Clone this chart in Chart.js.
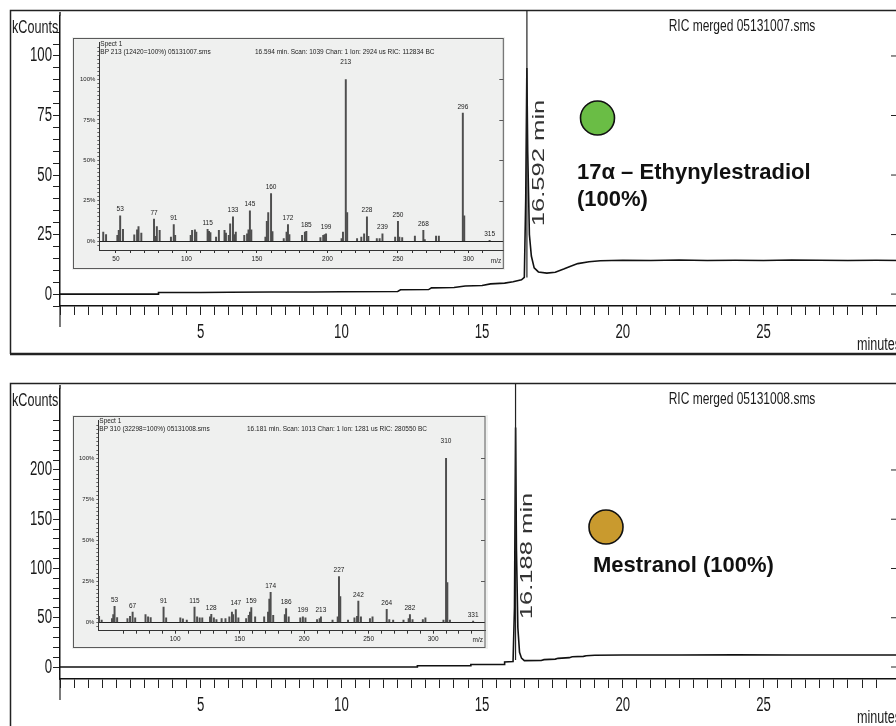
<!DOCTYPE html>
<html>
<head>
<meta charset="utf-8">
<script src="https://cdn.jsdelivr.net/npm/chart.js@4.4.0/dist/chart.umd.min.js"></script>
<style>
  html, body { margin: 0; padding: 0; background: #fff; overflow: hidden; }
  #wrap { position: relative; width: 896px; height: 726px; overflow: hidden; }
  canvas { position: absolute; }
  #chrom1 { left: 0; top: 0; }
  #chrom2 { left: 0; top: 373px; }
  #spec1 { left: 72px; top: 37px; background: #eff0ef; }
  #spec2 { left: 72px; top: 415px; background: #eff0ef; }
</style>
</head>
<body>
<div id="wrap">
  <canvas id="chrom1" width="900" height="373"></canvas>
  <canvas id="chrom2" width="900" height="373"></canvas>
  <canvas id="spec1" width="433" height="233"></canvas>
  <canvas id="spec2" width="416" height="234"></canvas>
</div>
<script>
// --- chromatogram 1: RIC merged 05131007.sms (17a-ethynylestradiol) ---
const chrom1Time = [0, 3.5, 3.5, 5, 6, 7.5, 9, 10, 12, 12.1, 13.1, 13.2, 14, 14.4, 15, 15.3, 15.8, 16.1, 16.4, 16.5,
  16.55, 16.59, 16.62, 16.68, 16.75, 16.85, 17, 17.3, 17.6, 17.9, 18.1, 18.4, 18.8, 19.2, 20, 21, 22, 23, 24, 25, 26, 27, 28, 29, 29.9];
const chrom1Counts = [0, 0, 0.7, 0.7, 0.8, 0.9, 0.9, 1.0, 1.1, 1.8, 1.9, 2.6, 2.8, 3.4, 3.6, 4.3, 4.6, 5.2, 6, 7,
  40, 95, 60, 25, 16, 11, 9.3, 8.8, 9.2, 10.5, 11.5, 12.8, 13.6, 14, 14.2, 14.1, 14.3, 14.1, 14.2, 14.1, 14.3, 14.2, 14.1, 14.2, 14.1];
const chrom1Peak = 16.592;

// --- chromatogram 2: RIC merged 05131008.sms (mestranol) ---
const chrom2Time = [0, 12.7, 12.7, 14.6, 14.6, 15.8, 15.8, 16.1, 16.15, 16.19, 16.22, 16.27, 16.33, 16.4, 16.5,
  17.1, 17.2, 17.6, 17.7, 18.1, 18.2, 18.6, 18.7, 19, 20, 22, 24, 26, 28, 29.9];
const chrom2Counts = [0, 0, 1.3, 1.3, 2.6, 2.6, 5, 5.5, 60, 243, 120, 40, 15, 9, 6.5,
  6.6, 7.5, 8, 8.8, 9.5, 10.4, 10.8, 11.5, 12, 12.2, 12.2, 12.3, 12.2, 12.2, 12.2];
const chrom2Peak = 16.188;

const timeLabels = [5, 10, 15, 20, 25];

// --- inset spectrum 1: BP 213 ---
const spec1Mz = [41, 43, 51, 52, 53, 55, 63, 65, 66, 68, 77, 78, 79, 81, 89, 91, 92, 103, 104, 106, 107, 115, 116, 117,
  121, 123, 127, 128, 130, 131, 133, 134, 135, 141, 143, 144, 145, 146, 156, 157, 158, 160, 161, 169, 171, 172, 173,
  182, 184, 185, 195, 197, 198, 199, 210, 211, 213, 214, 221, 224, 226, 228, 229, 235, 237, 239, 248, 250, 251, 253,
  262, 268, 269, 277, 279, 296, 297, 315];
const spec1Int = [5.6, 4.2, 3.6, 6.7, 15.7, 7.3, 4, 7, 9, 5, 13.7, 3, 9, 6.7, 2.6, 10.3, 3.6, 3.6, 6.7, 7, 5.6, 7.3, 6.2, 5.4,
  2.6, 6.7, 6.7, 5, 3.6, 10.7, 15.1, 4.2, 5.6, 3.6, 4.6, 7, 18.8, 7, 2.6, 12.3, 17.8, 29.5, 6, 1.6, 5.6, 10.3, 4.2,
  3.6, 5.6, 6.2, 2.2, 3.6, 4.2, 4.6, 1.6, 5.6, 100, 17.8, 1.6, 2.6, 4.6, 15.1, 3, 1.6, 1.6, 4.6, 2.6, 12.3, 2.6, 2.2,
  3.2, 6.7, 1, 3.2, 3.2, 79.3, 15.7, 0.6];
const spec1Labels = [53, 77, 91, 115, 133, 145, 160, 172, 185, 199, 213, 228, 239, 250, 268, 296, 315];

// --- inset spectrum 2: BP 310 ---
const spec2Mz = [41, 43, 51, 52, 53, 55, 63, 65, 67, 69, 77, 79, 81, 91, 93, 104, 106, 109, 115, 117, 119, 121, 127, 128,
  130, 132, 136, 139, 142, 144, 145, 147, 149, 155, 157, 158, 159, 162, 169, 172, 173, 174, 176, 185, 186, 188, 197,
  199, 201, 210, 212, 213, 222, 226, 227, 228, 234, 239, 241, 242, 244, 251, 253, 264, 266, 269, 277, 281, 282, 284,
  292, 294, 308, 310, 311, 313, 331];
const spec2Int = [3.8, 1.4, 2.4, 4.8, 9.8, 3, 2.4, 3.8, 6.4, 2.8, 4.8, 3.4, 3, 9.4, 2.8, 2.8, 2.2, 1.4, 9.4, 3.4, 2.8, 2.8, 3.4, 5,
  2.8, 1.8, 2.4, 2.4, 3.4, 6.4, 4.8, 7.8, 2.8, 2.4, 4.4, 6.4, 9, 3.4, 3.4, 6.4, 14.3, 18.3, 4.4, 4.8, 8.4, 3.4, 2.8,
  3.4, 2.8, 1.8, 2.4, 3.4, 1.4, 3.4, 27.9, 15.7, 1.4, 2.8, 3.8, 13, 3.4, 2.4, 3.4, 8, 1.8, 1.4, 1.4, 2.4, 4.8, 1.8,
  1.8, 2.8, 1.4, 100, 24.3, 1.4, 0.8];
const spec2Labels = [53, 67, 91, 115, 128, 147, 159, 174, 186, 199, 213, 227, 242, 264, 282, 310, 331];

const SANS = "'Liberation Sans', Arial, sans-serif";
const INK = '#1a1a1a';

function onStep(v, step) {
  return Math.abs(v / step - Math.round(v / step)) < 1e-6;
}

// condensed text: the original uses a narrow face, so squeeze Liberation Sans
function narrowText(ctx, text, x, y, size, sx, align) {
  ctx.save();
  ctx.translate(x, y);
  ctx.scale(sx, 1);
  ctx.font = size + 'px ' + SANS;
  ctx.textAlign = align;
  ctx.textBaseline = 'middle';
  ctx.fillText(text, 0, 0);
  ctx.restore();
}

function chromDecor(o) {
  return {
    id: 'chromDecor',
    afterDraw(chart) {
      const ctx = chart.ctx;
      const xs = chart.scales.x, ys = chart.scales.y;
      const a = chart.chartArea;
      ctx.save();
      // panel frame
      ctx.strokeStyle = '#222';
      ctx.lineWidth = 1.5;
      ctx.beginPath();
      ctx.moveTo(10.5, o.frameBottom || 373);
      ctx.lineTo(10.5, 10.5);
      ctx.lineTo(900, 10.5);
      ctx.stroke();
      if (o.frameBottom) {
        ctx.lineWidth = 2.5;
        ctx.beginPath();
        ctx.moveTo(10, o.frameBottom);
        ctx.lineTo(900, o.frameBottom);
        ctx.stroke();
      }
      // y axis continues above the top tick
      ctx.lineWidth = 1.5;
      ctx.beginPath();
      ctx.moveTo(a.left, a.top);
      ctx.lineTo(a.left, 12);
      ctx.stroke();
      // long tick at time 0
      ctx.lineWidth = 1.2;
      ctx.beginPath();
      ctx.moveTo(xs.getPixelForValue(0), a.bottom);
      ctx.lineTo(xs.getPixelForValue(0), a.bottom + 21);
      ctx.stroke();
      // right-hand tick dashes
      ctx.lineWidth = 1;
      o.rightTicks.forEach(v => {
        const y = ys.getPixelForValue(v);
        ctx.beginPath();
        ctx.moveTo(a.right - 9, y);
        ctx.lineTo(a.right - 4, y);
        ctx.stroke();
      });
      // retention time marker
      const px = xs.getPixelForValue(o.peak);
      ctx.lineWidth = 1.2;
      ctx.beginPath();
      ctx.moveTo(px, 10.5);
      ctx.lineTo(px, ys.getPixelForValue(7));
      ctx.stroke();

      // axis labels
      ctx.fillStyle = INK;
      o.rightTicks.forEach(v => narrowText(ctx, String(v), a.left - 8, ys.getPixelForValue(v), 20, 0.66, 'right'));
      timeLabels.forEach(t => narrowText(ctx, String(t), xs.getPixelForValue(t), a.bottom + 26, 20, 0.66, 'center'));
      narrowText(ctx, 'kCounts', 12, 28, 18, 0.7, 'left');
      narrowText(ctx, 'minutes', 857, 345, 18, 0.7, 'left');
      narrowText(ctx, o.title, 742, 27, 16, 0.75, 'center');

      // rotated retention label, just right of the marker
      ctx.save();
      ctx.translate(px + o.rtDx, o.rtY);
      ctx.rotate(-Math.PI / 2);
      ctx.scale(1.6, 1);
      ctx.font = '16px ' + SANS;
      ctx.fillStyle = '#333';
      ctx.textAlign = 'center';
      ctx.textBaseline = 'middle';
      ctx.fillText(o.peak.toFixed(3) + ' min', 0, 0);
      ctx.restore();

      // compound marker
      ctx.beginPath();
      ctx.arc(o.dotX, o.dotY, 17, 0, Math.PI * 2);
      ctx.fillStyle = o.dotColor;
      ctx.fill();
      ctx.lineWidth = 1.6;
      ctx.strokeStyle = '#111';
      ctx.stroke();

      ctx.fillStyle = '#111';
      ctx.font = 'bold 22px ' + SANS;
      ctx.textAlign = 'left';
      ctx.textBaseline = 'middle';
      o.name.forEach((line, i) => ctx.fillText(line, o.nameX, o.nameY + i * 27));
      ctx.restore();
    }
  };
}

function makeChrom(id, times, counts, o) {
  const pts = times.map((t, i) => ({ x: t, y: counts[i] }));
  return new Chart(document.getElementById(id), {
    type: 'line',
    data: { datasets: [{ data: pts, borderColor: '#111', borderWidth: 1.6, pointRadius: 0, tension: 0, fill: false }] },
    options: {
      responsive: false,
      animation: false,
      devicePixelRatio: 1,
      layout: { padding: { top: 15.5, right: 0, left: 0, bottom: 0 } },
      plugins: { legend: { display: false }, tooltip: { enabled: false } },
      scales: {
        x: {
          type: 'linear', min: 0, max: 29.85,
          afterBuildTicks: s => { s.ticks = s.ticks.filter(t => onStep(t.value, 0.5)); },
          afterFit: s => { s.height = 67; },
          ticks: { display: false, stepSize: 0.5, autoSkip: false },
          grid: { drawOnChartArea: false, drawTicks: true, tickLength: 9, tickColor: '#222', tickWidth: 1 },
          border: { color: '#111', width: 1.5 }
        },
        y: {
          min: o.yMin, max: o.yMax,
          afterBuildTicks: s => {
            s.ticks = s.ticks.filter(t => onStep(t.value, o.yStep) && t.value >= -o.yStep && t.value <= o.yTop);
          },
          afterFit: s => { s.width = 60; },
          ticks: { display: false, stepSize: o.yStep, autoSkip: false },
          grid: { drawOnChartArea: false, drawTicks: true, tickLength: 7, tickColor: '#222', tickWidth: 1 },
          border: { color: '#111', width: 1.5 }
        }
      }
    },
    plugins: [chromDecor(o)]
  });
}

function specDecor(o) {
  return {
    id: 'specDecor',
    afterDraw(chart) {
      const ctx = chart.ctx;
      const xs = chart.scales.x, ys = chart.scales.y;
      const a = chart.chartArea;
      ctx.save();
      ctx.strokeStyle = '#5a5a5a';
      ctx.lineWidth = 1;
      ctx.strokeRect(1.5, 1.5, a.right - 1.5, chart.height - 3);
      [25, 50, 75, 100].forEach(v => {
        const y = Math.round(ys.getPixelForValue(v)) + 0.5;
        ctx.beginPath();
        ctx.moveTo(a.right - 4, y);
        ctx.lineTo(a.right, y);
        ctx.stroke();
      });
      ctx.fillStyle = '#222';
      ctx.font = '6.5px ' + SANS;
      ctx.textBaseline = 'middle';
      ctx.textAlign = 'left';
      ctx.fillText('Spect 1', a.left + 1, o.headY);
      ctx.fillText(o.head1, a.left + 1, o.headY + 8);
      ctx.fillText(o.head2, o.head2X, o.headY + 8);
      ctx.textAlign = 'center';
      ctx.textBaseline = 'bottom';
      o.labels.forEach(m => {
        const i = o.mz.indexOf(m);
        const gap = o.inten[i] >= 100 ? 14 : 3;
        ctx.fillText(String(m), xs.getPixelForValue(m), ys.getPixelForValue(o.inten[i]) - gap);
      });
      ctx.textAlign = 'right';
      ctx.textBaseline = 'middle';
      ctx.fillText('m/z', a.right - 2, chart.height - 9);
      ctx.restore();
    }
  };
}

function makeSpec(id, mz, inten, labels, o) {
  const pts = mz.map((m, i) => ({ x: m, y: inten[i] }));
  o.mz = mz; o.inten = inten; o.labels = labels;
  return new Chart(document.getElementById(id), {
    type: 'bar',
    data: { datasets: [{ data: pts, backgroundColor: '#4e4e4e', barThickness: 1.3 }] },
    options: {
      responsive: false,
      animation: false,
      devicePixelRatio: 1,
      layout: { padding: { top: o.top, right: o.right, left: 0, bottom: 0 } },
      plugins: { legend: { display: false }, tooltip: { enabled: false } },
      scales: {
        x: {
          type: 'linear', min: o.mzMin, max: o.mzMax, offset: false,
          afterBuildTicks: s => { s.ticks = s.ticks.filter(t => onStep(t.value, 10)); },
          afterFit: s => { s.height = o.xh; },
          ticks: {
            stepSize: 10, autoSkip: false, maxRotation: 0, padding: 2,
            font: { family: SANS, size: 6.5 }, color: '#222',
            callback: v => onStep(v, 50) ? v : ''
          },
          grid: { drawOnChartArea: false, drawTicks: true, tickLength: 3, tickColor: '#333', offset: false },
          border: { color: '#333', width: 1 }
        },
        y: {
          min: o.yMin, max: o.yMax,
          afterBuildTicks: s => { s.ticks = s.ticks.filter(t => onStep(t.value, 2.5) && t.value >= -2.5); },
          afterFit: s => { s.width = o.yw; },
          ticks: {
            stepSize: 2.5, autoSkip: false, padding: 2,
            font: { family: SANS, size: 6 }, color: '#222',
            callback: v => (onStep(v, 25) && v >= 0 && v <= 100) ? v + '%' : ''
          },
          grid: {
            drawOnChartArea: true, drawTicks: true, tickLength: 2, tickColor: '#666',
            color: c => (c.tick && c.tick.value === 0) ? '#222' : 'rgba(0,0,0,0)'
          },
          border: { color: '#333', width: 1 }
        }
      }
    },
    plugins: [specDecor(o)]
  });
}

makeChrom('chrom1', chrom1Time, chrom1Counts, {
  yMin: -5, yMax: 117, yStep: 5, yTop: 115,
  rightTicks: [0, 25, 50, 75, 100],
  peak: chrom1Peak, title: 'RIC merged 05131007.sms',
  rtDx: 13, rtY: 163,
  dotX: 597.5, dotY: 118, dotColor: '#6abd45',
  name: ['17\u03b1 \u2013 Ethynylestradiol', '(100%)'], nameX: 577, nameY: 173,
  frameBottom: 354
});

makeChrom('chrom2', chrom2Time, chrom2Counts, {
  yMin: -12.18, yMax: 282.7, yStep: 10, yTop: 250,
  rightTicks: [0, 50, 100, 150, 200],
  peak: chrom2Peak, title: 'RIC merged 05131008.sms',
  rtDx: 12, rtY: 183,
  dotX: 606, dotY: 154, dotColor: '#c99a2e',
  name: ['Mestranol (100%)'], nameX: 593, nameY: 193,
  frameBottom: 0
});

makeSpec('spec1', spec1Mz, spec1Int, spec1Labels, {
  mzMin: 38.2, mzMax: 324.7, yMin: -5.4, yMax: 122.8,
  top: 1, right: 1.7, xh: 20, yw: 27.3,
  headY: 7, head1: 'BP 213 (12420=100%) 05131007.sms',
  head2: '16.594 min. Scan: 1039 Chan: 1 Ion: 2924 us RIC: 112834 BC', head2X: 183
});

makeSpec('spec2', spec2Mz, spec2Int, spec2Labels, {
  mzMin: 40.4, mzMax: 340.2, yMin: -5.0, yMax: 122.9,
  top: 1.7, right: 3, xh: 18.3, yw: 26.3,
  headY: 6, head1: 'BP 310 (32298=100%) 05131008.sms',
  head2: '16.181 min. Scan: 1013 Chan: 1 Ion: 1281 us RIC: 280550 BC', head2X: 175
});
</script>
</body>
</html>
